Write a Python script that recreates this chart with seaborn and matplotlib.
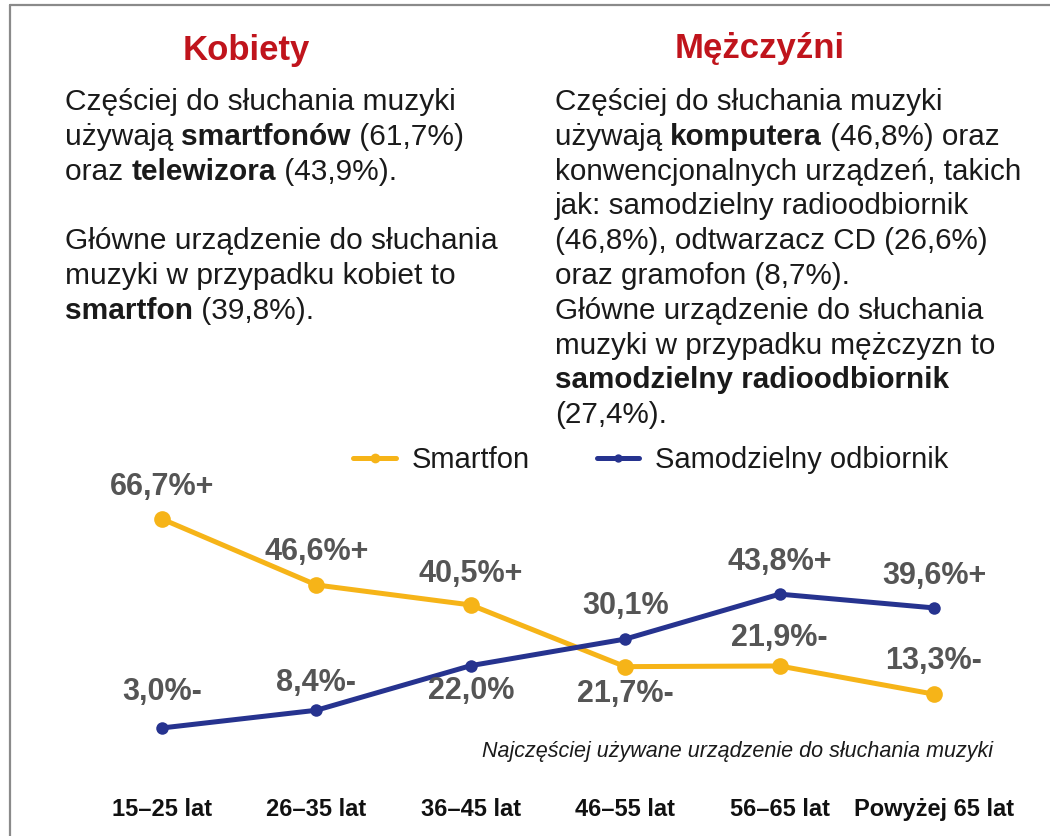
import pandas as pd
import matplotlib
matplotlib.use('Agg')
import matplotlib.pyplot as plt
import seaborn as sns
from matplotlib.lines import Line2D


W, H = 1050, 836

age_groups = ['15–25 lat', '26–35 lat', '36–45 lat', '46–55 lat', '56–65 lat', 'Powyżej 65 lat']
smartfon = [66.7, 46.6, 40.5, 21.7, 21.9, 13.3]
odbiornik = [3.0, 8.4, 22.0, 30.1, 43.8, 39.6]
smartfon_sign = ['+', '+', '+', '-', '-', '-']
odbiornik_sign = ['-', '-', '', '', '+', '+']

series_names = ['Smartfon', 'Samodzielny odbiornik']

title_left = 'Kobiety'
title_right = 'Mężczyźni'

text_left = [
    [('Częściej do słuchania muzyki', False)],
    [('używają ', False), ('smartfonów', True), (' (61,7%)', False)],
    [('oraz ', False), ('telewizora', True), (' (43,9%).', False)],
    [],
    [('Główne urządzenie do słuchania', False)],
    [('muzyki w przypadku kobiet to', False)],
    [('smartfon', True), (' (39,8%).', False)],
]
text_right = [
    [('Częściej do słuchania muzyki', False)],
    [('używają ', False), ('komputera', True), (' (46,8%) oraz', False)],
    [('konwencjonalnych urządzeń, takich', False)],
    [('jak: samodzielny radioodbiornik', False)],
    [('(46,8%), odtwarzacz CD (26,6%)', False)],
    [('oraz gramofon (8,7%).', False)],
    [('Główne urządzenie do słuchania', False)],
    [('muzyki w przypadku mężczyzn to', False)],
    [('samodzielny radioodbiornik', True)],
    [('(27,4%).', False)],
]
footnote = 'Najczęściej używane urządzenie do słuchania muzyki'

YELLOW = '#F6B418'
BLUE = '#26338F'

sns.set_style('white')
plt.rcParams['font.family'] = ['Liberation Sans', 'DejaVu Sans']

fig = plt.figure(figsize=(W / 100, H / 100), dpi=100)
renderer = fig.canvas.get_renderer()


def fx(px):
    return px / W


def fy(px):
    return 1 - px / H


# chart area
ax_left, ax_right, ax_top, ax_bottom = 110, 990, 470, 790
ax = fig.add_axes([fx(ax_left), fy(ax_bottom), (ax_right - ax_left) / W, (ax_bottom - ax_top) / H])

df = pd.DataFrame({
    'wiek': age_groups * 2,
    'proc': smartfon + odbiornik,
    'urzadzenie': [series_names[0]] * 6 + [series_names[1]] * 6,
})

sns.lineplot(data=df[df['urzadzenie'] == series_names[0]], x='wiek', y='proc', color=YELLOW,
             linewidth=3.6, marker='o', markersize=12, markeredgewidth=0, sort=False, ax=ax, legend=False)
sns.lineplot(data=df[df['urzadzenie'] == series_names[1]], x='wiek', y='proc', color=BLUE,
             linewidth=3.6, marker='o', markersize=9, markeredgewidth=0, sort=False, ax=ax, legend=False)

step = 154.4
ax.set_xlim((ax_left - 162) / step, (ax_right - 162) / step)
px_per = 3.28
zero_px = 737.8
ax.set_ylim((zero_px - ax_bottom) / px_per, (zero_px - ax_top) / px_per)

ax.set_xticks(range(len(age_groups)))
ax.set_xticklabels(age_groups, fontsize=17, fontweight='bold', color='#111111')
ax.tick_params(axis='x', length=0, pad=6)
ax.set_yticks([])
ax.set_xlabel('')
ax.set_ylabel('')
for s in ax.spines.values():
    s.set_visible(False)
ax.patch.set_alpha(0)

# value labels (offsets in pixels, up positive)
smart_off = [32, 33, 31, -27, 28, 33]
odb_off = [36, 27, -25, 33, 32, 32]
for vals, signs, offs in [(smartfon, smartfon_sign, smart_off), (odbiornik, odbiornik_sign, odb_off)]:
    for i, (v, s, o) in enumerate(zip(vals, signs, offs)):
        lab = f'{v:.1f}'.replace('.', ',') + '%' + s
        ax.annotate(lab, (i, v), xytext=(0, o * 0.72), textcoords='offset points',
                    ha='center', va='center', fontsize=22, fontweight='bold', color='#555555')

# legend
handles = [Line2D([], [], color=YELLOW, lw=3.6, marker='o', markersize=7, markeredgewidth=0),
           Line2D([], [], color=BLUE, lw=3.6, marker='o', markersize=6, markeredgewidth=0)]
fig.legend(handles, series_names, loc='center', bbox_to_anchor=(fx(651), fy(460)), ncol=2,
           frameon=False, fontsize=21, handlelength=1.45, handletextpad=0.55, columnspacing=2.3,
           labelcolor='#1a1a1a')

# footnote
fig.text(fx(993), fy(757), footnote, ha='right', va='baseline', fontsize=15.5, style='italic', color='#1a1a1a')

# titles
fig.text(fx(246), fy(60), title_left, ha='center', va='baseline', fontsize=25, fontweight='bold', color='#C0141C')
fig.text(fx(760), fy(58), title_right, ha='center', va='baseline', fontsize=25, fontweight='bold', color='#C0141C')


def rich_block(x0, y0, lines, dy, size):
    for k, parts in enumerate(lines):
        x = x0
        for txt, bold in parts:
            t = fig.text(fx(x), fy(y0 + k * dy), txt, ha='left', va='baseline', fontsize=size,
                         fontweight='bold' if bold else 'normal', color='#1a1a1a')
            x += t.get_window_extent(renderer).width


rich_block(65, 110, text_left, 34.8, 21.5)
rich_block(555, 110, text_right, 34.8, 21.3)

# frame
fig.add_artist(Line2D([fx(10), 1], [fy(5), fy(5)], color='#8a8a8a', lw=1.6))
fig.add_artist(Line2D([fx(10), fx(10)], [0, fy(5)], color='#8a8a8a', lw=1.6))

fig.savefig('out.png', dpi=100)
